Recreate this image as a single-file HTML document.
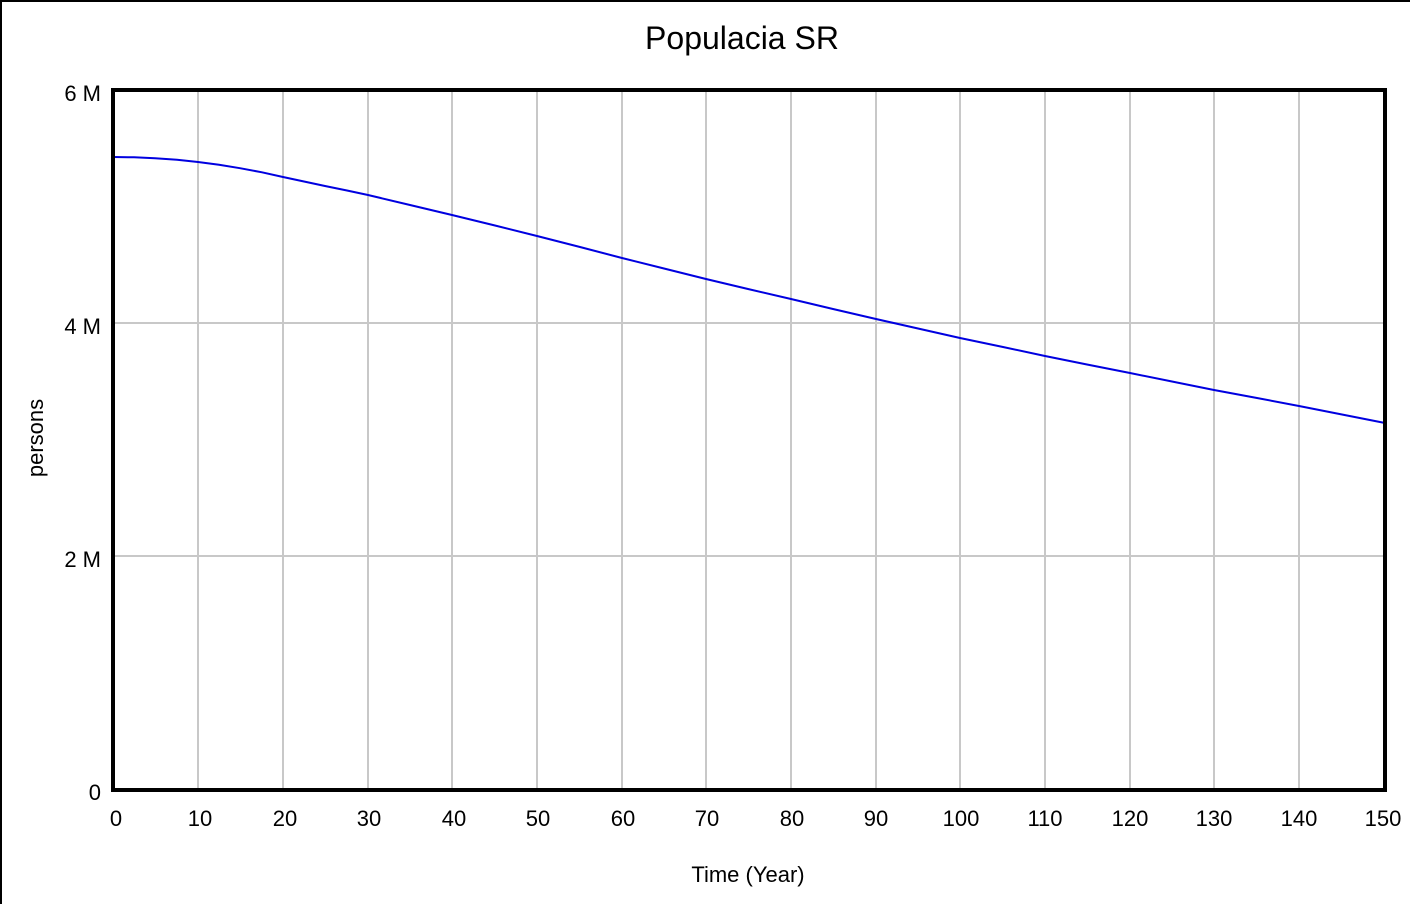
<!DOCTYPE html>
<html><head><meta charset="utf-8"><style>
body{margin:0;background:#fff;}
svg{display:block;font-family:"Liberation Sans",sans-serif;}
</style></head><body>
<svg width="1410" height="904" viewBox="0 0 1410 904">
<rect width="1410" height="904" fill="#fff"/>
<line x1="0" y1="1" x2="1410" y2="1" stroke="#000" stroke-width="2"/>
<line x1="1" y1="0" x2="1" y2="904" stroke="#000" stroke-width="2"/>
<g stroke="#c8c8c8" stroke-width="2">
<line x1="198" y1="90" x2="198" y2="790"/><line x1="283" y1="90" x2="283" y2="790"/>
<line x1="368" y1="90" x2="368" y2="790"/><line x1="452" y1="90" x2="452" y2="790"/>
<line x1="537" y1="90" x2="537" y2="790"/><line x1="622" y1="90" x2="622" y2="790"/>
<line x1="706" y1="90" x2="706" y2="790"/><line x1="791" y1="90" x2="791" y2="790"/>
<line x1="876" y1="90" x2="876" y2="790"/><line x1="960" y1="90" x2="960" y2="790"/>
<line x1="1045" y1="90" x2="1045" y2="790"/><line x1="1130" y1="90" x2="1130" y2="790"/>
<line x1="1214" y1="90" x2="1214" y2="790"/><line x1="1299" y1="90" x2="1299" y2="790"/>
<line x1="113" y1="323" x2="1385" y2="323"/><line x1="113" y1="556" x2="1385" y2="556"/>
</g>
<polyline fill="none" stroke="#0000e0" stroke-width="2" points="113,157 134,157.3 155,158.3 177,159.8 198,162 219,164.8 240,168.2 262,172.3 283,177 304,181.5 325,186 347,190.5 368,195 410,205 452,215 495,225.5 537,236 580,247 622,258 664,268.5 706,279 748,289 791,299 833,309 876,319 918,328.5 960,338 1003,347 1045,356 1087,364.5 1130,373 1172,381.5 1214,390 1257,398 1299,406 1342,414.5 1385,423"/>
<rect x="113" y="90" width="1272" height="700" fill="none" stroke="#000" stroke-width="4"/>
<text x="742" y="49" font-size="32" text-anchor="middle">Populacia SR</text>
<g font-size="22" text-anchor="end">
<text x="101" y="101">6 M</text><text x="101" y="334">4 M</text><text x="101" y="567">2 M</text><text x="101" y="800">0</text>
</g>
<g font-size="22" text-anchor="middle">
<text x="116" y="826">0</text><text x="200" y="826">10</text><text x="285" y="826">20</text><text x="369" y="826">30</text>
<text x="454" y="826">40</text><text x="538" y="826">50</text><text x="623" y="826">60</text><text x="707" y="826">70</text>
<text x="792" y="826">80</text><text x="876" y="826">90</text><text x="961" y="826">100</text><text x="1045" y="826">110</text>
<text x="1130" y="826">120</text><text x="1214" y="826">130</text><text x="1299" y="826">140</text><text x="1383" y="826">150</text>
</g>
<text x="748" y="882" font-size="22" text-anchor="middle">Time (Year)</text>
<text transform="translate(43,438) rotate(-90)" font-size="22" text-anchor="middle">persons</text>
</svg>
</body></html>
